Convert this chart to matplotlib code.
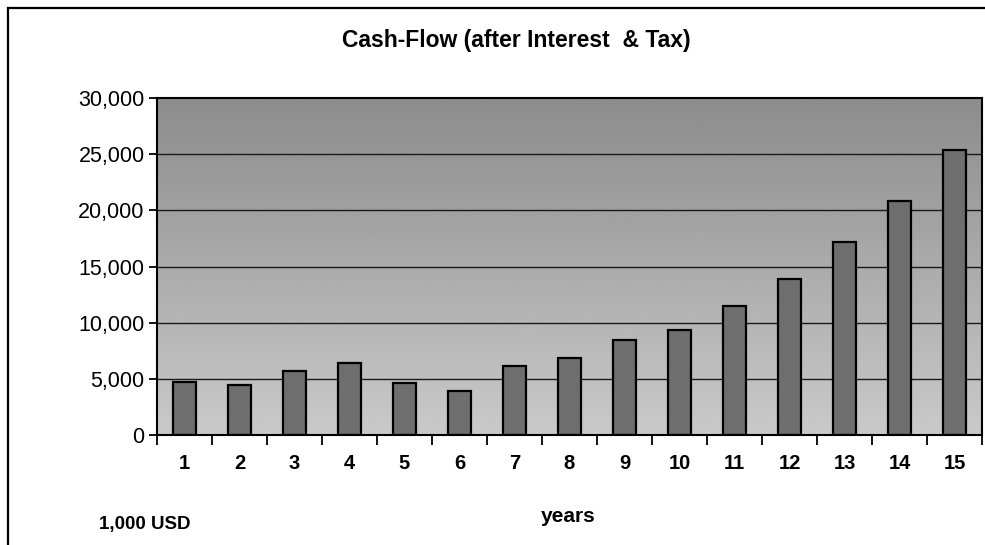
import numpy as np
import matplotlib.pyplot as plt
from matplotlib.lines import Line2D

plt.rcParams['font.family'] = ['Liberation Sans', 'DejaVu Sans']

years = list(range(1, 16))
cash_flow = [4700, 4450, 5700, 6400, 4650, 3950, 6100, 6850,
             8450, 9350, 11500, 13850, 17150, 20800, 25350]
y_ticks = [0, 5000, 10000, 15000, 20000, 25000, 30000]
y_tick_labels = ["0", "5,000", "10,000", "15,000", "20,000", "25,000", "30,000"]

fig = plt.figure(figsize=(9.85, 5.45), dpi=100)
ax = fig.add_axes([157 / 985, 1 - 435 / 545, (982 - 157) / 985, (435 - 98) / 545])

# plot area: gray gradient, darker at the top, lighter at the bottom
grad = np.linspace(0.79, 0.55, 256).reshape(-1, 1)
ax.imshow(grad, extent=[0.5, 15.5, 0, 30000], aspect='auto',
          cmap='gray', vmin=0, vmax=1, zorder=0, origin='lower')

for v in y_ticks[1:-1]:
    ax.axhline(v, color='#1a1a1a', lw=1.0, zorder=1)

ax.bar(years, cash_flow, width=0.43, color='#6e6e6e', edgecolor='black',
       linewidth=1.6, zorder=2)

ax.set_xlim(0.5, 15.5)
ax.set_ylim(0, 30000)
ax.set_yticks(y_ticks)
ax.set_yticklabels(y_tick_labels, fontsize=15.5)
ax.set_xticks(years)
ax.set_xticklabels([str(y) for y in years], fontsize=14.5, fontweight='bold')
ax.set_xticks(np.arange(0.5, 16, 1), minor=True)
ax.tick_params(axis='x', which='major', length=0, pad=14)
ax.tick_params(axis='x', which='minor', length=7, width=1.3, direction='out')
ax.tick_params(axis='y', length=6, width=1.3, direction='out', pad=3)

for s in ax.spines.values():
    s.set_linewidth(1.5)
    s.set_color('black')

fig.text(516 / 985, 1 - 40 / 545, "Cash-Flow (after Interest  & Tax)",
         ha='center', va='center', fontsize=16.5, fontweight='bold')
fig.text(568 / 985, 1 - 517 / 545, "years", ha='center', va='center',
         fontsize=15, fontweight='bold')
fig.text(145 / 985, 1 - 524 / 545, "1,000 USD", ha='center', va='center',
         fontsize=13.5, fontweight='bold')

# chart border (left and top, as in the scan)
fig.add_artist(Line2D([8 / 985, 8 / 985], [0, 1 - 8 / 545], color='black', lw=1.6,
                      transform=fig.transFigure))
fig.add_artist(Line2D([8 / 985, 1], [1 - 8 / 545, 1 - 8 / 545], color='black', lw=1.6,
                      transform=fig.transFigure))

fig.savefig("out.png", dpi=100)
